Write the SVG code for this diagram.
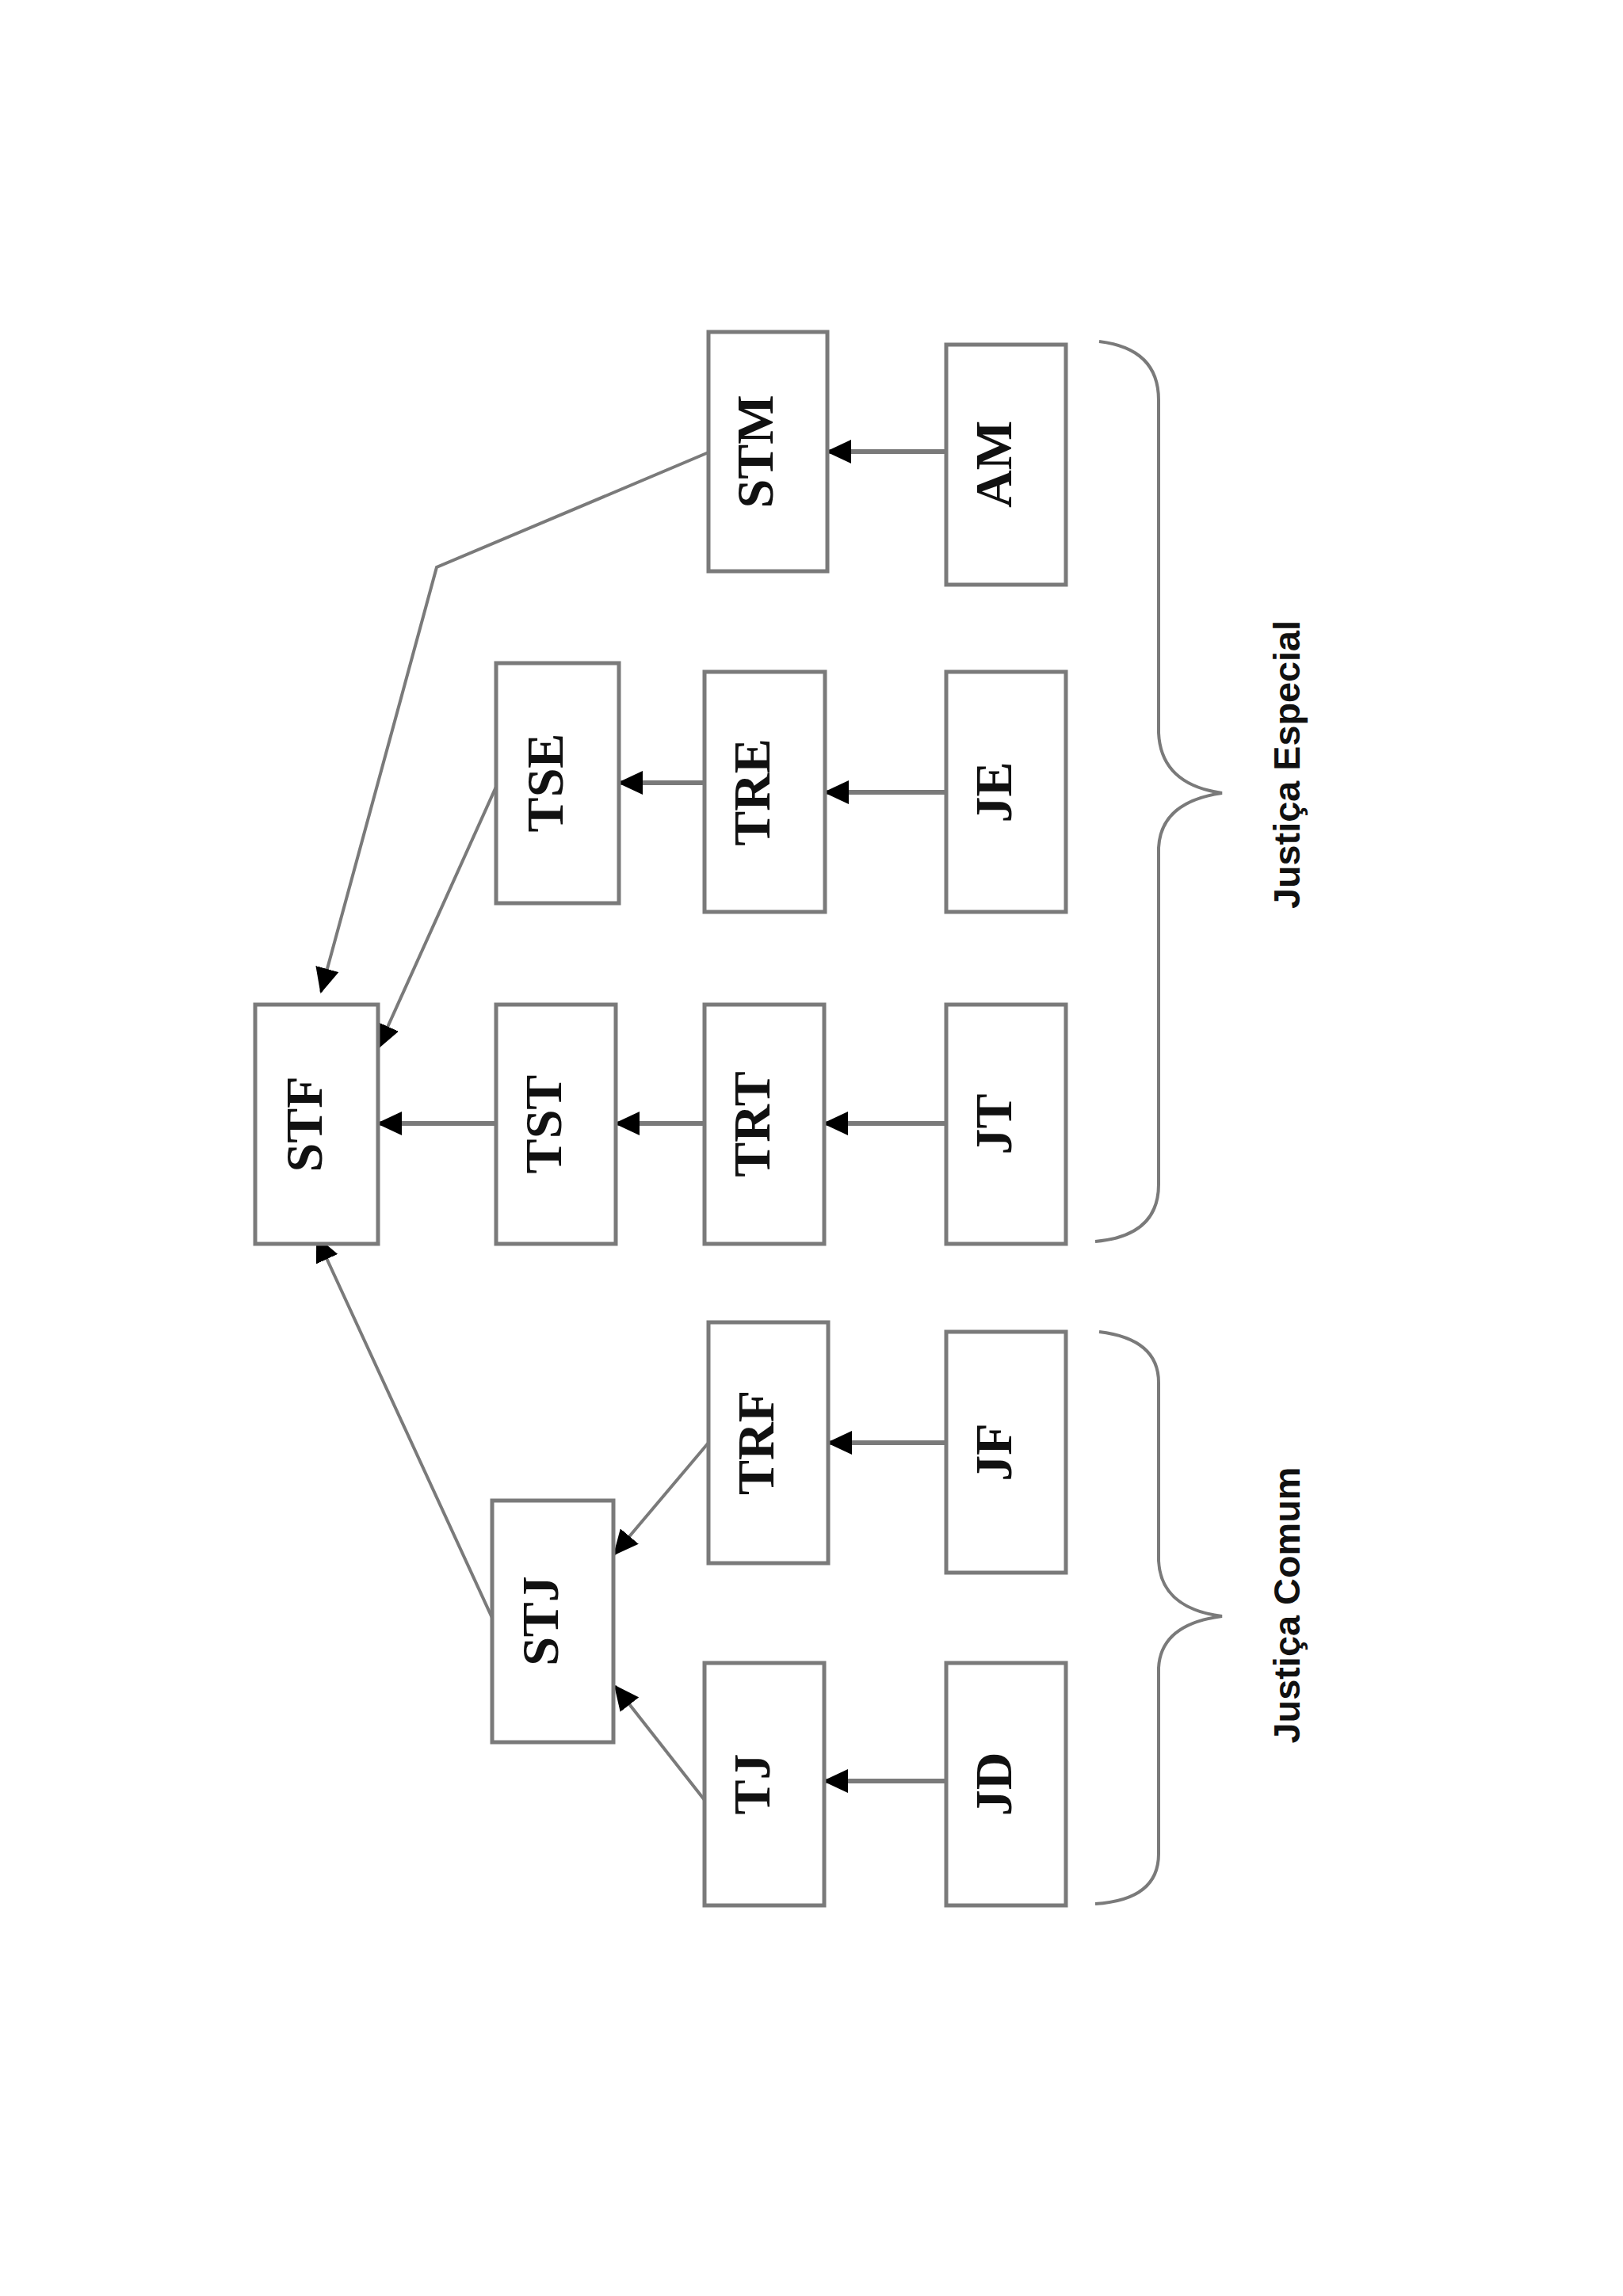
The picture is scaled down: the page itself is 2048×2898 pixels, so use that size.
<svg xmlns="http://www.w3.org/2000/svg" width="2048" height="2898" viewBox="0 0 2048 2898">
<style>
.box{fill:#fff;stroke:#7a7a7a;stroke-width:5}
.lbl{font-family:"Liberation Serif","Times New Roman",serif;font-weight:bold;font-size:66px;fill:#111;text-anchor:middle}
.grp{font-family:"Liberation Sans",Arial,sans-serif;font-weight:bold;font-size:47px;fill:#111;text-anchor:middle}
.con{fill:none;stroke:#7a7a7a;stroke-width:4;marker-end:url(#ah)}
.h{stroke-width:6}
.brace{fill:none;stroke:#7a7a7a;stroke-width:4}
</style>
<defs>
<marker id="ah" viewBox="0 0 32 30" refX="30" refY="15" markerWidth="32" markerHeight="30" markerUnits="userSpaceOnUse" orient="auto">
<path d="M0,0 L32,15 L0,30 z" fill="#000"/>
</marker>
</defs>
<rect width="2048" height="2898" fill="#fff"/>
<g id="connectors">
<path class="con h" d="M1194,570 L1044,570"/>
<path class="con h" d="M1194,1000 L1041,1000"/>
<path class="con h" d="M889,988 L781,988"/>
<path class="con h" d="M1194,1418 L1040,1418"/>
<path class="con h" d="M889,1418 L777,1418"/>
<path class="con h" d="M626,1418 L477,1418"/>
<path class="con h" d="M1194,1821 L1045,1821"/>
<path class="con h" d="M1194,2248 L1040,2248"/>
<path class="con" d="M894,571 L551,716 L405,1252"/>
<path class="con" d="M626,993 L477,1323"/>
<path class="con" d="M621,2042 L400,1562"/>
<path class="con" d="M894,1821 L775,1962"/>
<path class="con" d="M889,2272 L776,2128"/>
</g>
<g id="STM"><rect class="box" x="894" y="419" width="150" height="302"/><text class="lbl" transform="translate(975,570) rotate(-90)">STM</text></g>
<g id="AM"><rect class="box" x="1194" y="435" width="151" height="303"/><text class="lbl" transform="translate(1276,586) rotate(-90)">AM</text></g>
<g id="TSE"><rect class="box" x="626" y="837" width="155" height="303"/><text class="lbl" transform="translate(710,988) rotate(-90)">TSE</text></g>
<g id="TRE"><rect class="box" x="889" y="848" width="152" height="303"/><text class="lbl" transform="translate(971,1000) rotate(-90)">TRE</text></g>
<g id="JE"><rect class="box" x="1194" y="848" width="151" height="303"/><text class="lbl" transform="translate(1276,1000) rotate(-90)">JE</text></g>
<g id="STF"><rect class="box" x="322" y="1268" width="155" height="302"/><text class="lbl" transform="translate(406,1419) rotate(-90)">STF</text></g>
<g id="TST"><rect class="box" x="626" y="1268" width="151" height="302"/><text class="lbl" transform="translate(708,1419) rotate(-90)">TST</text></g>
<g id="TRT"><rect class="box" x="889" y="1268" width="151" height="302"/><text class="lbl" transform="translate(971,1419) rotate(-90)">TRT</text></g>
<g id="JT"><rect class="box" x="1194" y="1268" width="151" height="302"/><text class="lbl" transform="translate(1276,1419) rotate(-90)">JT</text></g>
<g id="TRF"><rect class="box" x="894" y="1669" width="151" height="304"/><text class="lbl" transform="translate(976,1821) rotate(-90)">TRF</text></g>
<g id="JF"><rect class="box" x="1194" y="1681" width="151" height="304"/><text class="lbl" transform="translate(1276,1833) rotate(-90)">JF</text></g>
<g id="STJ"><rect class="box" x="621" y="1894" width="153" height="305"/><text class="lbl" transform="translate(704,2046) rotate(-90)">STJ</text></g>
<g id="TJ"><rect class="box" x="889" y="2099" width="151" height="306"/><text class="lbl" transform="translate(971,2252) rotate(-90)">TJ</text></g>
<g id="JD"><rect class="box" x="1194" y="2099" width="151" height="306"/><text class="lbl" transform="translate(1276,2252) rotate(-90)">JD</text></g>
<g id="justica-especial">
<path class="brace" d="M1387,431 Q1462,440 1462,505 L1462,925 Q1465,990 1542,1001 Q1465,1012 1462,1070 L1462,1495 Q1462,1560 1382,1567"/>
<text class="grp" transform="translate(1640,965) rotate(-90)" textLength="364" lengthAdjust="spacingAndGlyphs">Justiça Especial</text>
</g>
<g id="justica-comum">
<path class="brace" d="M1387,1681 Q1462,1690 1462,1745 L1462,1970 Q1465,2030 1542,2040 Q1465,2050 1462,2105 L1462,2340 Q1462,2398 1382,2403"/>
<text class="grp" transform="translate(1640,2026) rotate(-90)" textLength="349" lengthAdjust="spacingAndGlyphs">Justiça Comum</text>
</g>
</svg>
